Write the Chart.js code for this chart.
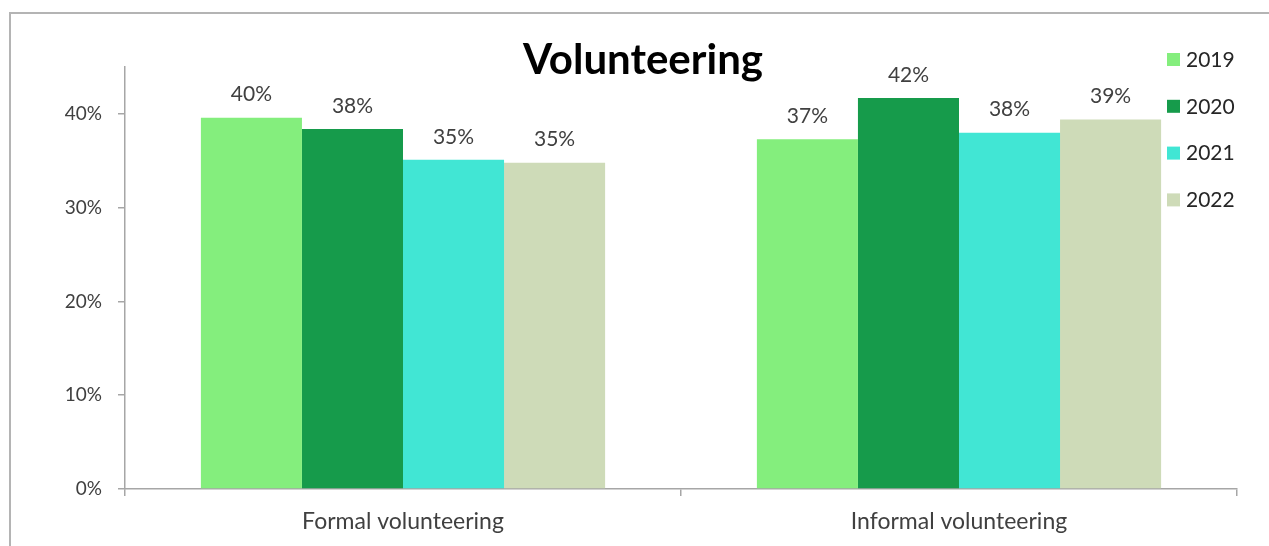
<!DOCTYPE html>
<html>
<head>
<meta charset="utf-8">
<title>Volunteering</title>
<script src="https://cdn.jsdelivr.net/npm/chart.js@4/dist/chart.umd.min.js"></script>
<style>
    html, body { margin: 0; padding: 0; background: #fff; }
    #wrap { width: 1269px; height: 546px; }
</style>
</head>
<body>
<div id="wrap"><canvas id="chart"></canvas></div>
<script>
// Data
const categories = ['Formal volunteering', 'Informal volunteering'];
const years = ['2019', '2020', '2021', '2022'];
const values2019 = [39.6, 37.3];
const values2020 = [38.4, 41.7];
const values2021 = [35.1, 38.0];
const values2022 = [34.8, 39.4];
const yTicks = [0, 10, 20, 30, 40];
const colors = ['#84ee7d', '#169b4b', '#41e6d4', '#cedbb8'];

const FONT = 'Lato, "Open Sans", sans-serif';
const axisGray = '#a6a6a6';

// Frame, title, legend and value labels
const decorations = {
    id: 'decorations',
    beforeDraw(chart) {
        const ctx = chart.ctx;
        ctx.save();
        ctx.fillStyle = '#fff';
        ctx.fillRect(0, 0, chart.width, chart.height);
        ctx.strokeStyle = '#b4b4b4';
        ctx.lineWidth = 2;
        ctx.strokeRect(10, 13, chart.width + 20, chart.height + 20);
        ctx.restore();
    },
    afterDatasetsDraw(chart) {
        const ctx = chart.ctx;
        ctx.save();
        ctx.font = '21px ' + FONT;
        ctx.fillStyle = '#404040';
        ctx.textAlign = 'center';
        ctx.textBaseline = 'middle';
        chart.data.datasets.forEach((ds, i) => {
            chart.getDatasetMeta(i).data.forEach((bar, j) => {
                ctx.fillText(Math.round(ds.data[j]) + '%', bar.x, bar.y - 23);
            });
        });
        ctx.restore();
    },
    afterDraw(chart) {
        const ctx = chart.ctx;
        ctx.save();
        // title
        ctx.font = 'bold 42px ' + FONT;
        ctx.fillStyle = '#000';
        ctx.textAlign = 'center';
        ctx.textBaseline = 'middle';
        ctx.fillText('Volunteering', 643, 60);
        // legend
        ctx.font = '21px ' + FONT;
        ctx.textAlign = 'left';
        chart.data.datasets.forEach((ds, i) => {
            const y = 60 + i * 46.8;
            ctx.fillStyle = ds.backgroundColor;
            ctx.fillRect(1167, y - 7, 13, 13);
            ctx.fillStyle = '#262626';
            ctx.fillText(ds.label, 1186, y);
        });
        ctx.restore();
    }
};

function initChart() {
    const ctx = document.getElementById('chart').getContext('2d');
    const series = [values2019, values2020, values2021, values2022];
    new Chart(ctx, {
        type: 'bar',
        data: {
            labels: categories,
            datasets: years.map((y, i) => ({
                label: y,
                data: series[i],
                backgroundColor: colors[i],
                borderWidth: 0,
                categoryPercentage: 0.727,
                barPercentage: 1.0
            }))
        },
        options: {
            responsive: true,
            maintainAspectRatio: false,
            animation: false,
            layout: {
                padding: { top: 67, right: 32, left: 0, bottom: 0 }
            },
            plugins: {
                legend: { display: false },
                title: { display: false },
                tooltip: { enabled: false }
            },
            scales: {
                x: {
                    grid: {
                        offset: true,
                        drawOnChartArea: false,
                        drawTicks: true,
                        tickLength: 7,
                        color: axisGray,
                        lineWidth: 1.5
                    },
                    border: { display: true, color: axisGray, width: 1.5 },
                    ticks: {
                        color: '#404040',
                        font: { family: FONT, size: 23 },
                        padding: 12
                    },
                    afterFit(scale) { scale.height = 546 - 489; }
                },
                y: {
                    min: 0,
                    max: 45,
                    afterBuildTicks(scale) {
                        scale.ticks = yTicks.map(v => ({ value: v }));
                    },
                    grid: {
                        drawOnChartArea: false,
                        drawTicks: true,
                        tickLength: 7,
                        color: axisGray,
                        lineWidth: 1.5
                    },
                    border: { display: true, color: axisGray, width: 1.5 },
                    ticks: {
                        color: '#404040',
                        font: { family: FONT, size: 19 },
                        padding: 16,
                        callback: v => v + '%'
                    },
                    afterFit(scale) { scale.width = 125; }
                }
            }
        },
        plugins: [decorations]
    });
}

document.addEventListener('DOMContentLoaded', initChart);
</script>
</body>
</html>
